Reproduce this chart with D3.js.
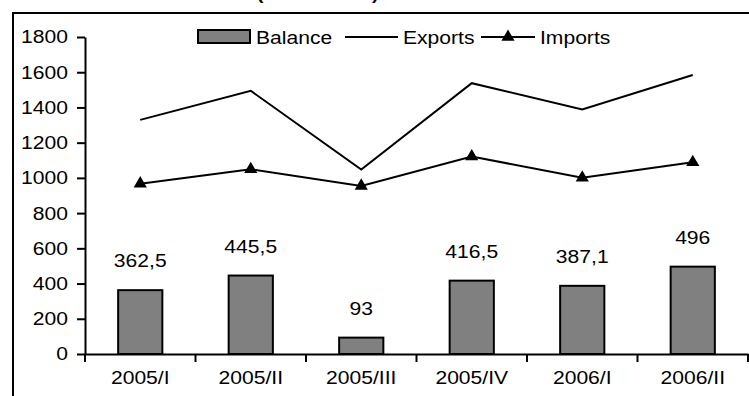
<!DOCTYPE html>
<html>
<head>
<meta charset="utf-8">
<script src="https://cdn.jsdelivr.net/npm/d3@7"></script>
<style>
  html, body { margin: 0; padding: 0; background: #fff; }
  svg { display: block; font-family: Arial, "Liberation Sans", sans-serif; }
</style>
</head>
<body>
<svg id="chart" width="749" height="396"></svg>
<script>
// Quarterly foreign trade
const categories = ["2005/I", "2005/II", "2005/III", "2005/IV", "2006/I", "2006/II"];
const balance = [362.5, 445.5, 93, 416.5, 387.1, 496];
const exportsVals = [1329.6, 1494.5, 1047.2, 1537.8, 1387.9, 1584.6];
const importsVals = [967.1, 1049.0, 954.2, 1121.3, 1000.8, 1088.6];
const yTicks = [0, 200, 400, 600, 800, 1000, 1200, 1400, 1600, 1800];
const balanceLabels = ["362,5", "445,5", "93", "416,5", "387,1", "496"];
const legendItems = ["Balance", "Exports", "Imports"];
const titleText = "(million EUR)";

const FONT = 18.5;      // text size
const STRETCH = 1.14;   // horizontal widening of the text

// Widen a text horizontally around its own anchor point
function widen(sel) {
  sel.each(function () {
    const t = d3.select(this);
    const ax = +t.attr("x") || 0;
    t.attr("transform", `translate(${ax},0) scale(${STRETCH},1) translate(${-ax},0)`);
  });
}

const svg = d3.select("#chart");
const plot = { left: 85, right: 748, top: 37, bottom: 354 };

const x = d3.scaleBand()
  .domain(categories)
  .range([plot.left, plot.right])
  .paddingInner(0.6)
  .paddingOuter(0.3);

const y = d3.scaleLinear()
  .domain([0, 1800])
  .range([plot.bottom, plot.top]);

// Outer frame (extends past the visible area on the right and bottom)
svg.append("rect")
  .attr("x", 13).attr("y", 13)
  .attr("width", 800).attr("height", 500)
  .attr("fill", "none").attr("stroke", "#000").attr("stroke-width", 2);

// Title, mostly above the visible area
svg.append("text")
  .attr("x", 257).attr("y", 0)
  .attr("font-size", 17).attr("font-weight", "bold")
  .text(titleText)
  .call(widen);

// Balance bars
svg.append("g").selectAll("rect")
  .data(balance)
  .join("rect")
  .attr("x", (d, i) => x(categories[i]))
  .attr("y", d => y(d))
  .attr("width", x.bandwidth())
  .attr("height", d => y(0) - y(d))
  .attr("fill", "#808080")
  .attr("stroke", "#000")
  .attr("stroke-width", 2);

// Value labels above bars
svg.append("g").selectAll("text")
  .data(balance)
  .join("text")
  .attr("x", (d, i) => x(categories[i]) + x.bandwidth() / 2)
  .attr("y", d => y(d) - 23)
  .attr("text-anchor", "middle")
  .attr("font-size", FONT)
  .text((d, i) => balanceLabels[i])
  .call(widen);

const cx = (d, i) => x(categories[i]) + x.bandwidth() / 2;
const line = d3.line().x(cx).y(d => y(d));

// Exports line
svg.append("path")
  .datum(exportsVals)
  .attr("d", line)
  .attr("fill", "none").attr("stroke", "#000").attr("stroke-width", 2);

// Imports line with triangle markers
svg.append("path")
  .datum(importsVals)
  .attr("d", line)
  .attr("fill", "none").attr("stroke", "#000").attr("stroke-width", 2);

const tri = d3.symbol().type(d3.symbolTriangle).size(75);
svg.append("g").selectAll("path")
  .data(importsVals)
  .join("path")
  .attr("d", tri)
  .attr("transform", (d, i) => `translate(${cx(d, i)},${y(d)})`)
  .attr("fill", "#000");

// Y axis
const yAxis = svg.append("g")
  .attr("transform", `translate(${plot.left},0)`)
  .call(d3.axisLeft(y).tickValues(yTicks).tickFormat(d3.format("d"))
    .tickSize(8).tickPadding(9).tickSizeOuter(0));
yAxis.select(".domain").attr("stroke-width", 2);
yAxis.selectAll(".tick line").attr("stroke-width", 2);
yAxis.selectAll("text")
  .attr("font-size", FONT).attr("font-family", "Arial, 'Liberation Sans', sans-serif").attr("fill", "#000")
  .call(widen);

// X axis: labels at band centres, tick marks at band boundaries
const xAxis = svg.append("g")
  .attr("transform", `translate(0,${plot.bottom})`)
  .call(d3.axisBottom(x).tickSize(0).tickPadding(17).tickSizeOuter(0));
xAxis.select(".domain").attr("stroke-width", 2);
xAxis.selectAll("text")
  .attr("font-size", FONT).attr("font-family", "Arial, 'Liberation Sans', sans-serif").attr("fill", "#000")
  .call(widen);

const boundaries = d3.range(categories.length + 1).map(i => x.range()[0] + i * x.step());
xAxis.selectAll(".bound")
  .data(boundaries)
  .join("line")
  .attr("class", "bound")
  .attr("x1", d => d).attr("x2", d => d)
  .attr("y1", 0).attr("y2", 8)
  .attr("stroke", "#000").attr("stroke-width", 2);

// Legend
const lg = svg.append("g").attr("transform", "translate(0,37)");
lg.append("rect")
  .attr("x", 198).attr("y", -7).attr("width", 52).attr("height", 13)
  .attr("fill", "#808080").attr("stroke", "#000").attr("stroke-width", 2);
lg.append("text").attr("x", 256).attr("y", 6.5).attr("font-size", FONT).text(legendItems[0]).call(widen);

lg.append("line").attr("x1", 345).attr("x2", 398).attr("y1", 0).attr("y2", 0)
  .attr("stroke", "#000").attr("stroke-width", 2);
lg.append("text").attr("x", 403).attr("y", 6.5).attr("font-size", FONT).text(legendItems[1]).call(widen);

lg.append("line").attr("x1", 481).attr("x2", 535).attr("y1", 0).attr("y2", 0)
  .attr("stroke", "#000").attr("stroke-width", 2);
lg.append("path").attr("d", tri).attr("transform", "translate(508,0)").attr("fill", "#000");
lg.append("text").attr("x", 540).attr("y", 6.5).attr("font-size", FONT).text(legendItems[2]).call(widen);
</script>
</body>
</html>
